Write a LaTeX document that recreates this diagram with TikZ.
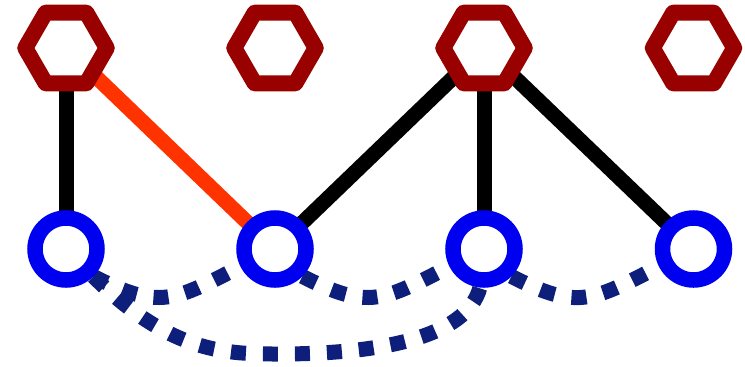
\documentclass[tikz,border=0pt]{standalone}
\usetikzlibrary{shapes.geometric,backgrounds,calc}
\definecolor{rougefonce}{HTML}{990000}
\definecolor{orangevif}{HTML}{FF3300}
\definecolor{bleuvif}{HTML}{0000F0}
\definecolor{marine}{HTML}{0E1F7B}

\begin{document}
\begin{tikzpicture}[
    hexa/.style={regular polygon, regular polygon sides=6, draw=rougefonce, line width=0.32cm, line join=round, fill=white, inner sep=0pt, minimum size=1.63cm},
    rond/.style={circle, draw=bleuvif, line width=0.31cm, fill=white, inner sep=0pt, minimum size=1.24cm},
    arete/.style={line width=0.3cm},
    pointille/.style={marine, line width=0.3cm, dash pattern=on 0.3cm off 0.34cm}
]
    \useasboundingbox (0,0) rectangle (14.9,7.32);

    % Sommets : hexagones en haut, cercles en bas
    \foreach \i/\x in {1/1.32, 2/5.5, 3/9.68, 4/13.87} {
        \node[hexa] (h\i) at (\x,6.36) {};
        \node[rond] (c\i) at (\x,2.34) {};
    }

    \begin{scope}[on background layer]
        % Aretes hexagone -> cercle
        \draw[arete] (h1.center) -- (c1.center);
        \draw[arete, orangevif] (h1.center) -- (c2.center);
        \draw[arete] (h3.center) -- (c2.center);
        \draw[arete] (h3.center) -- (c3.center);
        \draw[arete] (h3.center) -- (c4.center);

        % Liens en pointilles entre cercles voisins
        \draw[pointille] (c1.-45) to[out=-27, in=-153, looseness=1.3] (c2.-153);
        \draw[pointille] (c2.-45) to[out=-27, in=-153, looseness=1.3] (c3.-153);
        \draw[pointille] (c3.-45) to[out=-27, in=-153, looseness=1.3] (c4.-153);
        % Grand lien c1 -> c3, passe sous c2
        \draw[pointille] (c1.-45) .. controls +(-45:2.2) and +(-1,0)
            .. ([shift={(0.08,-2.1)}]$(c1)!.5!(c3)$)
            .. controls +(2,0) and +(-105:1.04) .. (c3.-96);
    \end{scope}
\end{tikzpicture}
\end{document}
